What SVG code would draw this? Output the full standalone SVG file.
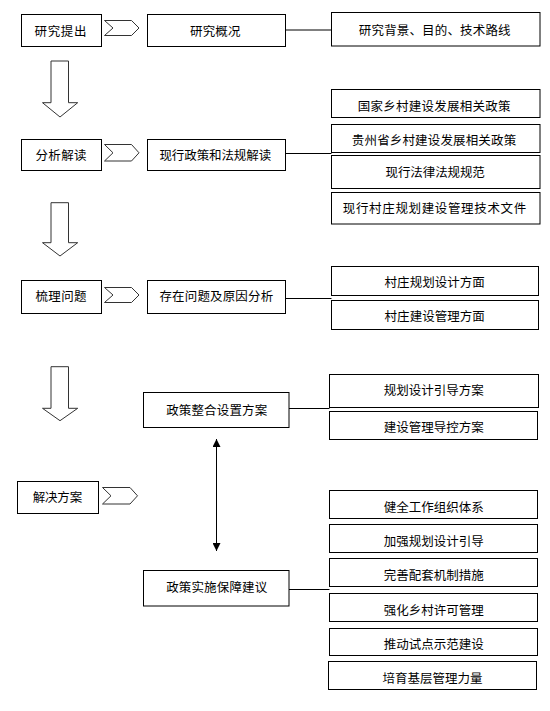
<svg xmlns="http://www.w3.org/2000/svg" width="550" height="711" viewBox="0 0 550 711">
<style>
rect.b{fill:#fff;stroke:#000;stroke-width:1}
text{font-family:"Noto Sans CJK SC","Noto Sans",sans-serif;font-size:12.5px;fill:#000;text-anchor:middle}
.chev{fill:#fff;stroke:#333;stroke-width:1}
.down{fill:#fff;stroke:#333;stroke-width:1}
.ln{stroke:#000;stroke-width:1;fill:none}
</style>
<defs>
<marker id="ah" viewBox="0 0 8 8" refX="8" refY="4" markerWidth="8" markerHeight="8" markerUnits="userSpaceOnUse" orient="auto-start-reverse">
<path d="M0,0 L8,4 L0,8 Z" fill="#000"/>
</marker>
</defs>
<rect width="550" height="711" fill="#fff"/>

<g id="connectors">
<polygon class="down" points="51,61 68.5,61 68.5,102.7 77.7,102.7 60,117 42.5,102.7 51,102.7"/>
<polygon class="down" points="51,202.7 68.5,202.7 68.5,242.7 77.7,242.7 60,256 42.5,242.7 51,242.7"/>
<polygon class="down" points="51,366.7 68.5,366.7 68.5,408.3 77.7,408.3 60,420.7 42.5,408.3 51,408.3"/>
<polygon class="chev" points="104.5,20.5 113,28 104.5,35.5 131.5,35.5 139,28 131.5,20.5"/>
<polygon class="chev" points="104.5,144.5 113,152.8 104.5,161 131.5,161 139,152.8 131.5,144.5"/>
<polygon class="chev" points="104.5,287.5 113,295 104.5,302.5 131.5,302.5 139,295 131.5,287.5"/>
<polygon class="chev" points="102.5,487.5 111,495.8 102.5,504 130,504 137.5,495.8 130,487.5"/>
<line class="ln" x1="285.5" y1="30" x2="331.5" y2="30"/>
<line class="ln" x1="285.5" y1="153.5" x2="331.5" y2="153.5"/>
<line class="ln" x1="285.5" y1="298.5" x2="331.5" y2="298.5"/>
<line class="ln" x1="289" y1="408.5" x2="329.5" y2="408.5"/>
<line class="ln" x1="289" y1="589.5" x2="329.5" y2="589.5"/>
<line class="ln" x1="216.5" y1="439" x2="216.5" y2="551" stroke="#333" marker-start="url(#ah)" marker-end="url(#ah)"/>
</g>

<g id="n1"><rect class="b" x="21.5" y="14.5" width="80" height="32"/><text x="60.5" y="36.2" textLength="52">研究提出</text></g>
<g id="n2"><rect class="b" x="147.5" y="14.5" width="138" height="32"/><text x="215.3" y="36.2" textLength="50.5">研究概况</text></g>
<g id="n3"><rect class="b" x="331.5" y="12.5" width="208.5" height="33.5"/><text x="434.7" y="35" textLength="151.7">研究背景、目的、技术路线</text></g>

<g id="n4"><rect class="b" x="21.5" y="139.5" width="80" height="31"/><text x="61" y="160.4" textLength="51">分析解读</text></g>
<g id="n5"><rect class="b" x="147.5" y="139.5" width="138" height="31"/><text x="215.3" y="160" textLength="111.7">现行政策和法规解读</text></g>
<g id="n6"><rect class="b" x="331.5" y="89.5" width="208.5" height="28"/><text x="434.2" y="110.7" textLength="152.7">国家乡村建设发展相关政策</text></g>
<g id="n7"><rect class="b" x="331.5" y="124.5" width="208.5" height="28"/><text x="434" y="144.7" textLength="164.3">贵州省乡村建设发展相关政策</text></g>
<g id="n8"><rect class="b" x="331.5" y="155.5" width="208.5" height="33"/><text x="435.2" y="176.6" textLength="99.3">现行法律法规规范</text></g>
<g id="n9"><rect class="b" x="331.5" y="192.5" width="208.5" height="31.5"/><text x="434.5" y="212.6" textLength="183.4">现行村庄规划建设管理技术文件</text></g>

<g id="n10"><rect class="b" x="21.5" y="280.5" width="80" height="33"/><text x="61" y="301.2" textLength="51">梳理问题</text></g>
<g id="n11"><rect class="b" x="147.5" y="280.5" width="138" height="33"/><text x="216.3" y="300.9" textLength="113.7">存在问题及原因分析</text></g>
<g id="n12"><rect class="b" x="331.5" y="266.5" width="207" height="29"/><text x="434.7" y="287.4" textLength="100.3">村庄规划设计方面</text></g>
<g id="n13"><rect class="b" x="331.5" y="300.5" width="207" height="29"/><text x="434.7" y="321.2" textLength="100.3">村庄建设管理方面</text></g>

<g id="n14"><rect class="b" x="17.5" y="481.5" width="81" height="32"/><text x="57.5" y="502.4" textLength="49.3">解决方案</text></g>
<g id="n15"><rect class="b" x="143.5" y="392.5" width="145.5" height="35"/><text x="216.7" y="414.9" textLength="101">政策整合设置方案</text></g>
<g id="n16"><rect class="b" x="143.5" y="570.5" width="145.5" height="35.5"/><text x="216.7" y="592.4" textLength="101">政策实施保障建议</text></g>
<g id="n17"><rect class="b" x="329.5" y="374.5" width="209" height="33"/><text x="433.8" y="395.2" textLength="100">规划设计引导方案</text></g>
<g id="n18"><rect class="b" x="329.5" y="411.5" width="208" height="28"/><text x="433.8" y="432" textLength="100">建设管理导控方案</text></g>
<g id="n19"><rect class="b" x="329.5" y="490.5" width="208" height="28"/><text x="433.8" y="511.7" textLength="100">健全工作组织体系</text></g>
<g id="n20"><rect class="b" x="329.5" y="524.5" width="208" height="28"/><text x="433.8" y="546" textLength="100">加强规划设计引导</text></g>
<g id="n21"><rect class="b" x="329.5" y="558.5" width="208" height="28"/><text x="433.8" y="579.7" textLength="100">完善配套机制措施</text></g>
<g id="n22"><rect class="b" x="329.5" y="593.5" width="208" height="28"/><text x="433.8" y="614.7" textLength="100">强化乡村许可管理</text></g>
<g id="n23"><rect class="b" x="329.5" y="628.5" width="208" height="27"/><text x="433.8" y="648.7" textLength="100">推动试点示范建设</text></g>
<g id="n24"><rect class="b" x="328.5" y="661.5" width="208" height="28"/><text x="432.5" y="682.6" textLength="100">培育基层管理力量</text></g>
</svg>
